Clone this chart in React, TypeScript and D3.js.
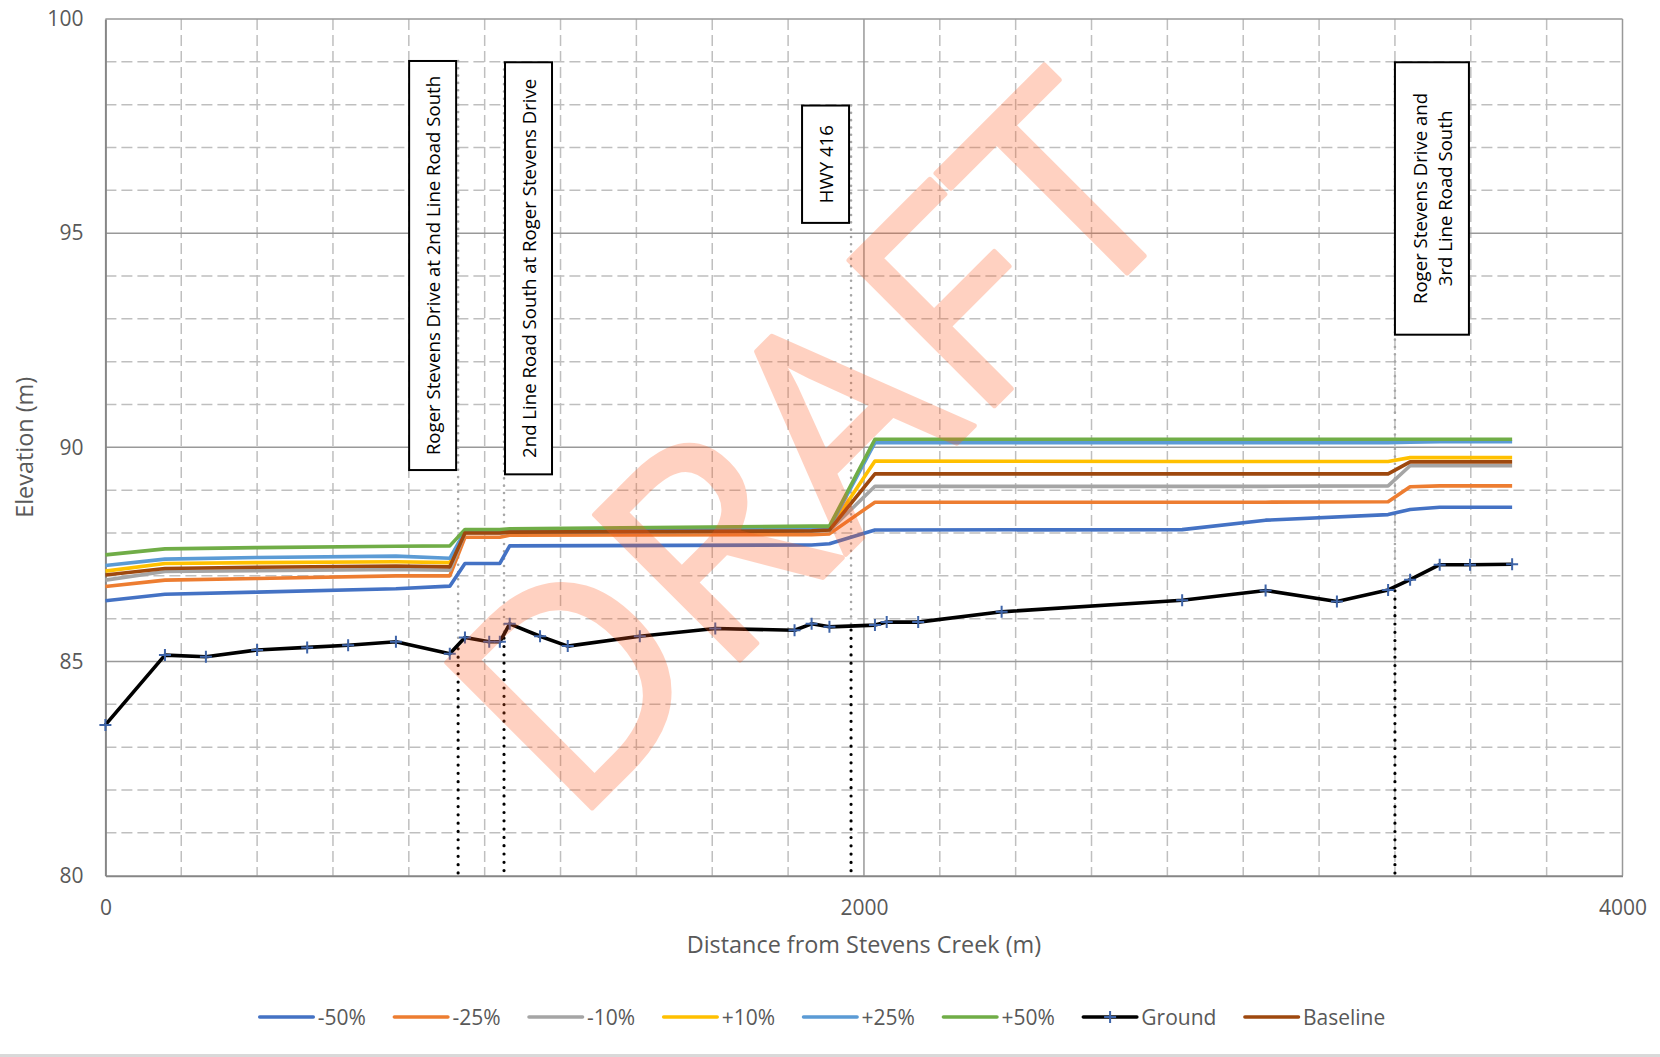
import { useEffect, useRef } from "react";
import * as d3 from "d3";

// Ground profile (distance m, elevation m)
const groundX = [0, 157, 265, 400, 532, 640, 766, 908, 948, 1012, 1040, 1066, 1146, 1219, 1409, 1608, 1817, 1862, 1909, 2029, 2060, 2143, 2363, 2839, 3059, 3247, 3382, 3440, 3518, 3598, 3709];
const groundY = [83.52, 85.15, 85.11, 85.27, 85.33, 85.38, 85.46, 85.18, 85.56, 85.46, 85.46, 85.88, 85.59, 85.36, 85.59, 85.77, 85.73, 85.88, 85.81, 85.85, 85.92, 85.92, 86.16, 86.43, 86.66, 86.4, 86.67, 86.91, 87.26, 87.26, 87.27];

// Water surface profiles
const profileX = [0, 157, 400, 766, 908, 948, 1040, 1066, 1862, 1909, 2029, 2839, 3059, 3382, 3440, 3518, 3709];
const minus50 = [86.42, 86.57, 86.62, 86.7, 86.76, 87.29, 87.29, 87.7, 87.72, 87.75, 88.07, 88.08, 88.3, 88.43, 88.55, 88.6, 88.6];
const minus25 = [86.75, 86.9, 86.94, 87.0, 87.0, 87.9, 87.9, 87.95, 87.96, 87.98, 88.72, 88.72, 88.72, 88.73, 89.08, 89.1, 89.1];
const minus10 = [86.9, 87.1, 87.12, 87.15, 87.13, 88.0, 88.0, 88.02, 88.05, 88.06, 89.09, 89.09, 89.09, 89.1, 89.57, 89.57, 89.57];
const plus10 = [87.11, 87.29, 87.31, 87.33, 87.31, 88.02, 88.02, 88.04, 88.08, 88.09, 89.68, 89.67, 89.67, 89.67, 89.76, 89.76, 89.76];
const plus25 = [87.24, 87.39, 87.43, 87.46, 87.41, 88.04, 88.04, 88.06, 88.1, 88.12, 90.11, 90.11, 90.11, 90.11, 90.12, 90.13, 90.13];
const plus50 = [87.49, 87.63, 87.66, 87.69, 87.7, 88.08, 88.08, 88.1, 88.16, 88.16, 90.19, 90.19, 90.19, 90.19, 90.19, 90.19, 90.19];
const baseline = [87.02, 87.17, 87.2, 87.23, 87.21, 88.0, 88.0, 88.02, 88.05, 88.07, 89.38, 89.38, 89.38, 89.38, 89.66, 89.66, 89.66];

const seriesNames = ["-50%", "-25%", "-10%", "+10%", "+25%", "+50%"];
const seriesValues = [minus50, minus25, minus10, plus10, plus25, plus50];
const seriesColors = ["#4472C4", "#ED7D31", "#A5A5A5", "#FFC000", "#5B9BD5", "#70AD47"];

// Location call-outs
const annotationLabels = [
  ["Roger Stevens Drive at 2nd Line Road South"],
  ["2nd Line Road South at Roger Stevens Drive"],
  ["HWY 416"],
  ["Roger Stevens Drive and", "3rd Line Road South"],
];
const annotationX = [930, 1051, 1966, 3400];
const annotationTop = [99.02, 98.99, 97.98, 98.99];
const annotationBottom = [89.47, 89.37, 95.24, 92.63];

const xTicks = [0, 2000, 4000];
const yTicks = [80, 85, 90, 95, 100];

const W = 1660;
const H = 1057;
const FONT = "'Open Sans', 'DejaVu Sans', sans-serif";

export default function App() {
  const svgRef = useRef<SVGSVGElement | null>(null);

  useEffect(() => {
    if (!svgRef.current) return;
    const svg = d3.select(svgRef.current);
    svg.selectAll("*").remove();

    const x = d3.scaleLinear().domain([0, 4000]).range([105.4, 1622.5]);
    const y = d3.scaleLinear().domain([80, 100]).range([875.7, 19]);

    svg.append("rect").attr("width", W).attr("height", H).attr("fill", "#fff");
    svg.append("rect").attr("x", 0).attr("y", 1054).attr("width", W).attr("height", 3).attr("fill", "#D9D9D9");

    // minor grid
    const grid = svg.append("g");
    d3.range(200, 4000, 200)
      .filter((v) => v % 2000 !== 0)
      .forEach((v) => {
        grid.append("line")
          .attr("x1", x(v)).attr("x2", x(v))
          .attr("y1", y(100)).attr("y2", y(80))
          .attr("stroke", "#BFBFBF").attr("stroke-width", 1.5)
          .attr("stroke-dasharray", "11,5");
      });
    d3.range(81, 100, 1)
      .filter((v) => v % 5 !== 0)
      .forEach((v) => {
        grid.append("line")
          .attr("x1", x(0)).attr("x2", x(4000))
          .attr("y1", y(v)).attr("y2", y(v))
          .attr("stroke", "#BFBFBF").attr("stroke-width", 1.5)
          .attr("stroke-dasharray", "11,5");
      });
    // major grid
    [2000, 4000].forEach((v) => {
      grid.append("line")
        .attr("x1", x(v)).attr("x2", x(v))
        .attr("y1", y(100)).attr("y2", y(80))
        .attr("stroke", "#999").attr("stroke-width", 1.5);
    });
    [85, 90, 95, 100].forEach((v) => {
      grid.append("line")
        .attr("x1", x(0)).attr("x2", x(4000))
        .attr("y1", y(v)).attr("y2", y(v))
        .attr("stroke", "#999").attr("stroke-width", 1.5);
    });

    // axes
    const yAxis = svg.append("g")
      .attr("transform", `translate(${x(0)},0)`)
      .call(d3.axisLeft(y).tickValues(yTicks).tickSize(0).tickPadding(22).tickFormat(d3.format("d")));
    const xAxis = svg.append("g")
      .attr("transform", `translate(0,${y(80)})`)
      .call(d3.axisBottom(x).tickValues(xTicks).tickSize(0).tickPadding(24).tickFormat(d3.format("d")));
    [yAxis, xAxis].forEach((a) => {
      a.select(".domain").attr("stroke", "#868686").attr("stroke-width", 2);
      a.selectAll("text").attr("font-family", FONT).attr("font-size", 21).attr("fill", "#595959");
    });

    // axis titles
    svg.append("text")
      .attr("x", x(2000)).attr("y", 953)
      .attr("text-anchor", "middle")
      .attr("font-family", FONT).attr("font-size", 23.4).attr("fill", "#595959")
      .text("Distance from Stevens Creek (m)");
    svg.append("text")
      .attr("transform", `translate(24,${(y(80) + y(100)) / 2}) rotate(-90)`)
      .attr("text-anchor", "middle").attr("dominant-baseline", "central")
      .attr("font-family", FONT).attr("font-size", 23.4).attr("fill", "#595959")
      .text("Elevation (m)");

    // ground interpolation for call-out lines
    const groundAt = (d: number) => {
      const i = d3.bisectRight(groundX, d);
      const x0 = groundX[i - 1], x1 = groundX[i];
      const t = (d - x0) / (x1 - x0);
      return groundY[i - 1] + t * (groundY[i] - groundY[i - 1]);
    };

    const callouts = svg.append("g");
    annotationX.forEach((d, idx) => {
      const g = groundAt(d);
      callouts.append("line")
        .attr("x1", x(d)).attr("x2", x(d))
        .attr("y1", y(annotationTop[idx])).attr("y2", y(g))
        .attr("stroke", "#A6A6A6").attr("stroke-width", 2.6)
        .attr("stroke-linecap", "round").attr("stroke-dasharray", "0,7.3");
      callouts.append("line")
        .attr("x1", x(d)).attr("x2", x(d))
        .attr("y1", y(g) + 4).attr("y2", y(80))
        .attr("stroke", "#000").attr("stroke-width", 3.2)
        .attr("stroke-linecap", "round").attr("stroke-dasharray", "0,8.3");
    });

    // series
    const line = d3.line<[number, number]>().x((d) => x(d[0])).y((d) => y(d[1]));
    const plot = svg.append("g");
    seriesValues.forEach((vals, i) => {
      plot.append("path")
        .attr("d", line(profileX.map((px, j) => [px, vals[j]] as [number, number])))
        .attr("fill", "none").attr("stroke", seriesColors[i]).attr("stroke-width", 3.6)
        .attr("stroke-linejoin", "round");
    });
    plot.append("path")
      .attr("d", line(groundX.map((gx, j) => [gx, groundY[j]] as [number, number])))
      .attr("fill", "none").attr("stroke", "#000").attr("stroke-width", 3.6)
      .attr("stroke-linejoin", "round");
    const cross = (g: d3.Selection<SVGGElement, unknown, null, undefined>, cx: number, cy: number) => {
      g.append("path")
        .attr("d", `M${cx - 6},${cy}H${cx + 6}M${cx},${cy - 6}V${cy + 6}`)
        .attr("stroke", "#3E64A8").attr("stroke-width", 2).attr("fill", "none");
    };
    const markers = plot.append("g");
    groundX.forEach((gx, j) => cross(markers, x(gx), y(groundY[j])));
    plot.append("path")
      .attr("d", line(profileX.map((px, j) => [px, baseline[j]] as [number, number])))
      .attr("fill", "none").attr("stroke", "#9E480E").attr("stroke-width", 3.6)
      .attr("stroke-linejoin", "round");

    // call-out boxes
    const boxWidths = [47, 47, 47, 74];
    const boxOffsets = [-49, 1, -49, 0];
    annotationLabels.forEach((lines, i) => {
      const bx = x(annotationX[i]) + boxOffsets[i];
      const by = y(annotationTop[i]);
      const bh = y(annotationBottom[i]) - by;
      const bw = boxWidths[i];
      callouts.append("rect")
        .attr("x", bx).attr("y", by).attr("width", bw).attr("height", bh)
        .attr("fill", "#fff").attr("stroke", "#000").attr("stroke-width", 2);
      const cx = bx + bw / 2;
      const cy = by + bh / 2;
      lines.forEach((t, k) => {
        const off = (k - (lines.length - 1) / 2) * 25.5;
        callouts.append("text")
          .attr("transform", `translate(${cx + off},${cy}) rotate(-90)`)
          .attr("text-anchor", "middle").attr("dominant-baseline", "central")
          .attr("font-family", FONT).attr("font-size", 18.6).attr("fill", "#000")
          .text(t);
      });
    });

    // watermark
    svg.append("text")
      .attr("transform", "translate(882,518) rotate(-45)")
      .attr("text-anchor", "middle")
      .attr("font-family", FONT).attr("font-size", 288)
      .attr("fill", "#FF5A1E").attr("stroke", "#FF5A1E").attr("stroke-width", 5)
      .attr("stroke-linejoin", "round")
      .attr("opacity", 0.27)
      .text("DRAFT");

    // legend
    const legend = svg.append("g");
    const names = [...seriesNames, "Ground", "Baseline"];
    const colors = [...seriesColors, "#000", "#9E480E"];
    let cursor = 0;
    names.forEach((n, i) => {
      const g = legend.append("g");
      g.append("line")
        .attr("x1", cursor).attr("x2", cursor + 53.5)
        .attr("y1", 1017).attr("y2", 1017)
        .attr("stroke", colors[i]).attr("stroke-width", 3.6).attr("stroke-linecap", "round");
      if (n === "Ground") cross(g, cursor + 26.75, 1017);
      const t = g.append("text")
        .attr("x", cursor + 58).attr("y", 1024.5)
        .attr("font-family", FONT).attr("font-size", 21).attr("fill", "#595959")
        .text(n);
      const tw = (t.node() as SVGTextElement).getComputedTextLength();
      cursor += 58 + tw + 28.5;
    });
    const total = cursor - 28.5;
    legend.attr("transform", `translate(${822.5 - total / 2},0)`);
  }, []);

  return (
    <svg
      ref={svgRef}
      width={W}
      height={H}
      style={{ position: "absolute", left: 0, top: 0, display: "block" }}
    ></svg>
  );
}
